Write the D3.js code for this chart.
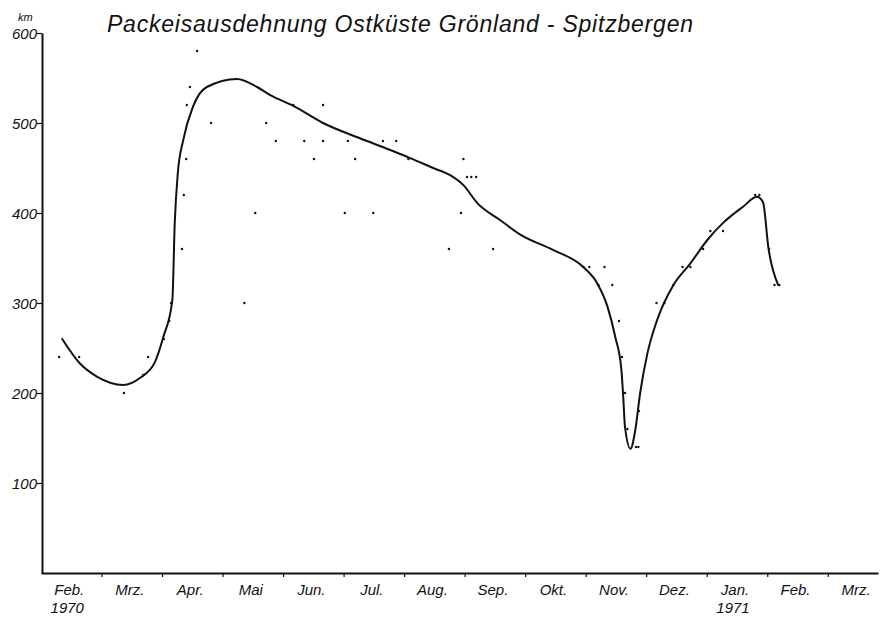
<!DOCTYPE html>
<html>
<head>
<meta charset="utf-8">
<script src="https://cdn.jsdelivr.net/npm/d3@7"></script>
<style>
  html, body { margin: 0; padding: 0; background: #fff; }
  svg { display: block; }
  text { font-family: "Liberation Sans", Arial, sans-serif; font-style: italic; fill: #111; }
</style>
</head>
<body>
<svg id="chart" width="882" height="618"></svg>
<script>
// Month labels along the time axis (Feb 1970 .. Mrz 1971), one per month interval
const monthLabels = ["Feb.", "Mrz.", "Apr.", "Mai", "Jun.", "Jul.", "Aug.", "Sep.", "Okt.", "Nov.", "Dez.", "Jan.", "Feb.", "Mrz."];
// Year labels and the month interval they sit under
const yearLabelMonths = [0, 11];
const yearLabels = ["1970", "1971"];
// Extent axis ticks in km
const kmTicks = [100, 200, 300, 400, 500, 600];

// Single observations: time in months since 1 Feb 1970, ice extent in km
const obsMonth = [0.30, 0.63, 1.37, 1.69, 1.77, 2.03, 2.12, 2.15, 2.33, 2.36, 2.40, 2.41, 2.46, 2.58, 2.81,
  3.36, 3.54, 3.72, 3.88, 4.17, 4.35, 4.51, 4.66, 4.66, 5.02, 5.07, 5.19, 5.49, 5.65, 5.87, 6.07,
  6.74, 6.94, 6.98, 7.04, 7.11, 7.19, 7.47, 8.96, 9.06, 9.21, 9.31, 9.44, 9.55, 9.60, 9.65, 9.69,
  9.83, 9.87, 9.88, 10.17, 10.30, 10.45, 10.60, 10.73, 10.94, 11.06, 11.27, 11.80, 11.87, 12.03, 12.12, 12.20];
const obsKm = [240, 240, 200, 220, 240, 260, 280, 300, 360, 420, 460, 520, 540, 580, 500,
  300, 400, 500, 480, 520, 480, 460, 480, 520, 400, 480, 460, 400, 480, 480, 460,
  360, 400, 460, 440, 440, 440, 360, 340, 340, 320, 340, 320, 280, 240, 200, 160,
  140, 140, 180, 300, 300, 320, 340, 340, 360, 380, 380, 420, 420, 360, 320, 320];

// Smoothed course of the ice edge
const trendMonth = [0.35, 0.64, 0.93, 1.36, 1.64, 1.88, 2.02, 2.17, 2.21, 2.26, 2.35, 2.51, 2.74, 3.24,
  3.57, 3.79, 4.17, 4.66, 5.27, 5.77, 6.10, 6.48, 6.76, 6.98, 7.21, 7.59, 7.92, 8.46, 8.96, 9.19,
  9.36, 9.49, 9.59, 9.62, 9.65, 9.74, 9.82, 9.90, 10.02, 10.18, 10.45, 10.73, 11.01, 11.27, 11.60,
  11.83, 11.93, 12.02, 12.18];
const trendKm = [260, 233, 218, 209, 217, 234, 262, 303, 389, 444, 481, 518, 540, 549,
  540, 531, 519, 500, 483, 470, 461, 450, 442, 431, 411, 392, 376, 359, 340, 322,
  296, 262, 226, 196, 162, 138, 159, 200, 244, 281, 320, 344, 370, 389, 407,
  418, 412, 361, 320];

const svg = d3.select("#chart");

const x = d3.scaleLinear().domain([0, 13.83]).range([41, 878]);
const y = d3.scaleLinear().domain([0, 600]).range([573, 33]);

// Title
svg.append("text")
  .attr("x", 107).attr("y", 32)
  .attr("font-size", 23)
  .attr("textLength", 586).attr("lengthAdjust", "spacing")
  .text("Packeisausdehnung Ostküste Grönland - Spitzbergen");

// Unit label above the value axis
svg.append("text")
  .attr("x", 18).attr("y", 21)
  .attr("font-size", 11)
  .text("km");

// Value axis
const yAxis = svg.append("g")
  .attr("transform", "translate(42,0)")
  .call(d3.axisLeft(y).tickValues(kmTicks).tickSize(5).tickSizeOuter(0).tickFormat(d3.format("d")));
yAxis.select(".domain").attr("stroke", "#111").attr("stroke-width", 2);
yAxis.selectAll(".tick line").attr("stroke", "#111").attr("stroke-width", 1.2);
yAxis.selectAll(".tick text")
  .attr("x", -5).attr("dy", "0.36em")
  .attr("font-size", 15)
  .style("font-family", "'Liberation Sans', Arial, sans-serif")
  .style("font-style", "italic")
  .attr("fill", "#111");

// Time axis
const xAxis = svg.append("g")
  .attr("transform", "translate(0,573)")
  .call(d3.axisBottom(x).tickValues(d3.range(1, 14)).tickSize(4).tickSizeOuter(0).tickFormat(""));
xAxis.select(".domain").attr("stroke", "#111").attr("stroke-width", 2);
xAxis.selectAll(".tick line").attr("stroke", "#111").attr("stroke-width", 1.2);

svg.append("g").selectAll("text")
  .data(monthLabels)
  .join("text")
  .attr("x", (d, i) => x(i + 0.5) - 2)
  .attr("y", 595)
  .attr("text-anchor", "middle")
  .attr("font-size", 15)
  .text(d => d);

svg.append("g").selectAll("text")
  .data(yearLabels)
  .join("text")
  .attr("x", (d, i) => x(yearLabelMonths[i] + 0.5) - 4)
  .attr("y", 613)
  .attr("text-anchor", "middle")
  .attr("font-size", 15)
  .text(d => d);

// Observations
svg.append("g").selectAll("circle")
  .data(obsMonth.map((m, i) => [m, obsKm[i]]))
  .join("circle")
  .attr("cx", d => x(d[0]))
  .attr("cy", d => y(d[1]))
  .attr("r", 1.2)
  .attr("fill", "#111");

// Smoothed curve
const line = d3.line()
  .x(d => x(d[0]))
  .y(d => y(d[1]))
  .curve(d3.curveMonotoneX);

svg.append("path")
  .datum(trendMonth.map((m, i) => [m, trendKm[i]]))
  .attr("d", line)
  .attr("fill", "none")
  .attr("stroke", "#111")
  .attr("stroke-width", 2)
  .attr("stroke-linejoin", "round")
  .attr("stroke-linecap", "round");
</script>
</body>
</html>
